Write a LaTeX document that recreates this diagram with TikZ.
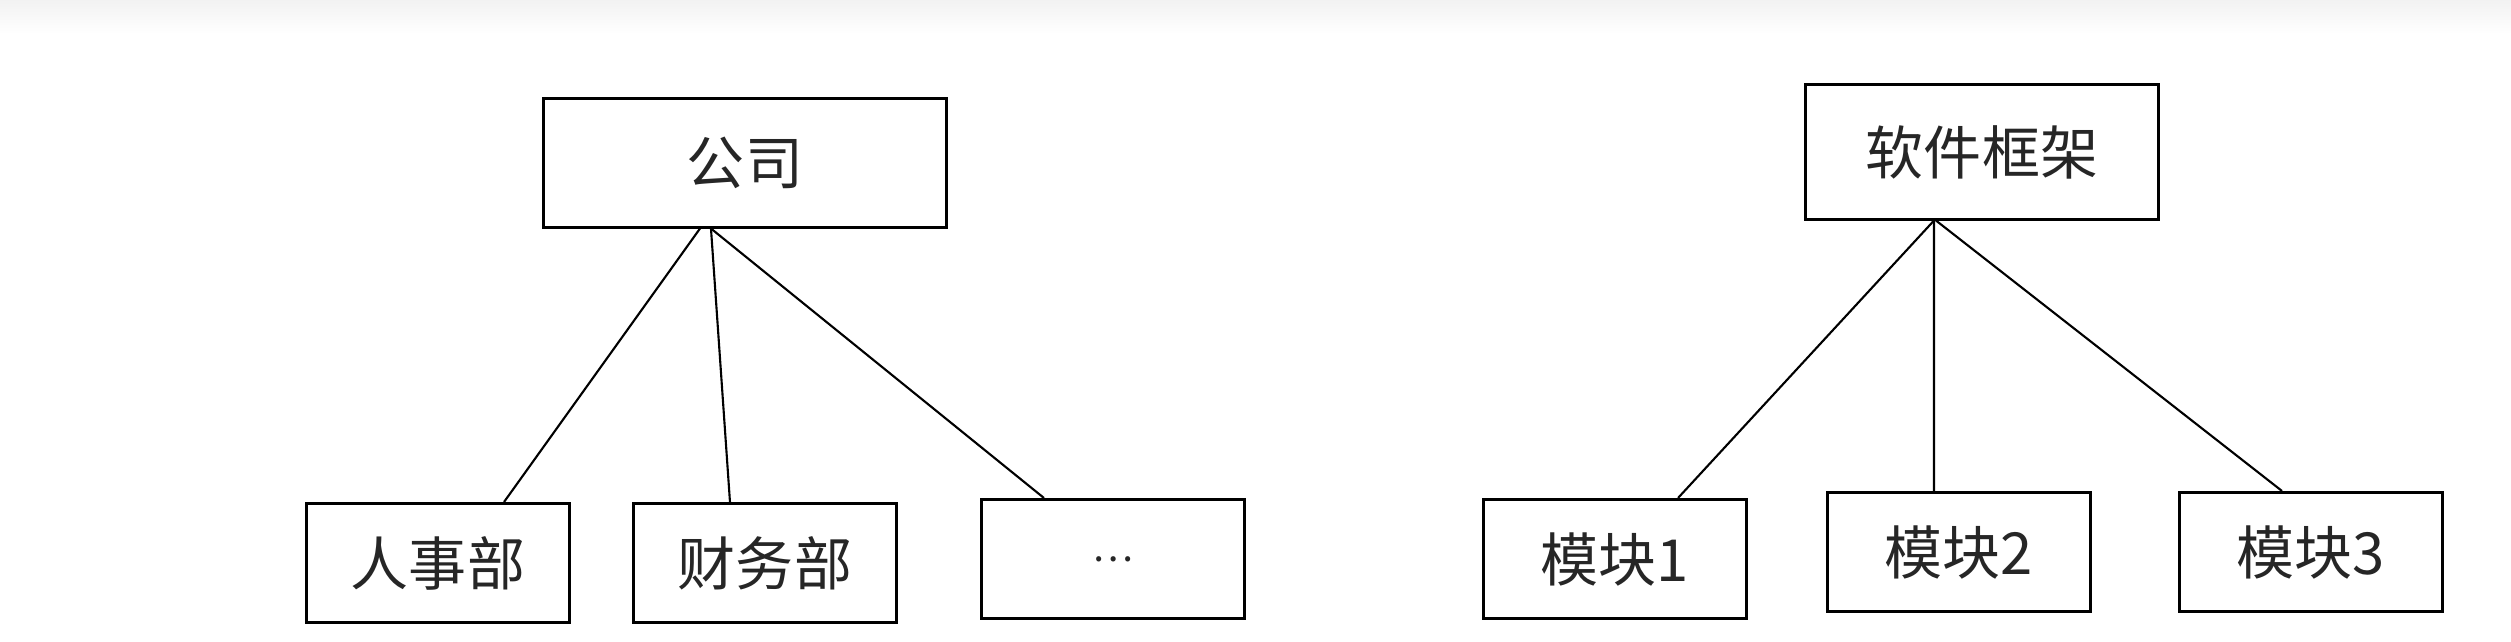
\documentclass[tikz,border=0pt]{standalone}
\usepackage{fontspec}
\usepackage{tikz}
\usetikzlibrary{positioning}
\newfontfamily\cjk{Noto Sans CJK SC}

\begin{document}
\begin{tikzpicture}[x=0.01cm,y=-0.01cm,
  box/.style={draw,line width=0.85pt,rectangle,inner sep=0pt,
    minimum width=2.62cm,minimum height=1.19cm,
    font=\cjk\fontsize{16.5}{20}\selectfont,text=black!85},
  link/.style={line width=0.6pt}]
  \useasboundingbox (0,0) rectangle (2511,641);
  \shade[top color=black!5,bottom color=white] (0,0) rectangle (2511,34);

  % left tree
  \node[box,minimum width=4.02cm,minimum height=1.28cm] (gs) at (745,163) {公司};
  \node[box] (rsb) at (438,563) {人事部};
  \node[box] (cwb) at (765,563) {财务部};
  \node[box] (etc) at (1113,559) {\fontsize{11}{14}\selectfont …\hspace{0.3cm}};

  % right tree
  \node[box,minimum width=3.53cm,minimum height=1.34cm] (rjkj) at (1982,152) {软件框架};
  \node[box] (mk1) at (1615,559) {模块1};
  \node[box] (mk2) at (1959,552) {模块2};
  \node[box] (mk3) at (2311,552) {模块3};

  \draw[link]([xshift=-0.45cm]gs.south)--([xshift=0.66cm]rsb.north);
  \draw[link]([xshift=-0.34cm]gs.south)--([xshift=-0.35cm]cwb.north);
  \draw[link]([xshift=-0.34cm]gs.south)--([xshift=-0.69cm]etc.north);

  \draw[link]([xshift=-0.48cm]rjkj.south)--([xshift=0.63cm]mk1.north);
  \draw[link]([xshift=-0.48cm]rjkj.south)--([xshift=-0.25cm]mk2.north);
  \draw[link]([xshift=-0.46cm]rjkj.south)--([xshift=-0.29cm]mk3.north);
\end{tikzpicture}
\end{document}
